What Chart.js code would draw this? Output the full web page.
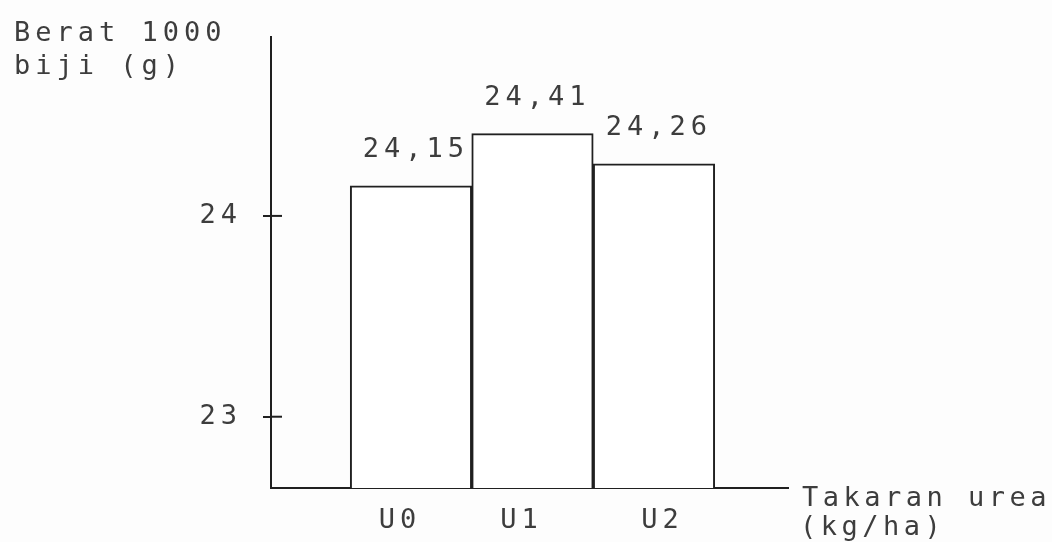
<!DOCTYPE html>
<html>
<head>
<meta charset="utf-8">
<script src="https://cdn.jsdelivr.net/npm/chart.js@4.4.1/dist/chart.umd.min.js"></script>
<style>
  html, body { margin: 0; padding: 0; background: #fdfdfd; }
  #wrap { position: relative; width: 1052px; height: 542px; }
</style>
</head>
<body>
<div id="wrap"><canvas id="c"></canvas></div>
<script>
// ---- data ----
const categories = ['U0', 'U1', 'U2'];
const weights = [24.15, 24.41, 24.26];
const weightLabels = ['24,15', '24,41', '24,26'];
const yTickValues = [23, 24];
const yTitleLines = ['Berat 1000', 'biji (g)'];
const xTitleLines = ['Takaran urea', '(kg/ha)'];

// ---- style ----
const FONT_FAMILY = "'DejaVu Sans Mono', 'Liberation Mono', monospace";
const FONT_SIZE = 27;
const TEXT_COLOR = '#3d3d3d';
const LINE_COLOR = '#202020';
const SPACING = '5px';
// label anchor shift (in category units) as printed in the original
const X_LABEL_SHIFT = [-0.09, -0.09, 0.07];

const spacingPlugin = {
  id: 'spacing',
  beforeDraw(chart) { chart.ctx.letterSpacing = SPACING; }
};

const extrasPlugin = {
  id: 'extras',
  afterDatasetsDraw(chart) {
    const ctx = chart.ctx;
    const meta = chart.getDatasetMeta(0);
    ctx.save();
    ctx.letterSpacing = SPACING;
    ctx.fillStyle = TEXT_COLOR;
    ctx.font = FONT_SIZE + 'px ' + FONT_FAMILY;
    ctx.textAlign = 'center';
    ctx.textBaseline = 'middle';
    meta.data.forEach((bar, i) => {
      ctx.fillText(weightLabels[i], bar.x + 5, bar.y - 36);
    });
    ctx.restore();
  },
  afterDraw(chart) {
    const ctx = chart.ctx;
    const ys = chart.scales.y;
    const area = chart.chartArea;
    ctx.save();
    ctx.strokeStyle = LINE_COLOR;
    ctx.lineWidth = 2;
    yTickValues.forEach(v => {
      const py = ys.getPixelForValue(v);
      ctx.beginPath();
      ctx.moveTo(area.left, py);
      ctx.lineTo(area.left + 11, py);
      ctx.stroke();
    });
    ctx.letterSpacing = SPACING;
    ctx.fillStyle = TEXT_COLOR;
    ctx.font = FONT_SIZE + 'px ' + FONT_FAMILY;
    ctx.textAlign = 'left';
    ctx.textBaseline = 'alphabetic';
    ctx.fillText(yTitleLines[0], 14, 41);
    ctx.fillText(yTitleLines[1], 14, 74);
    ctx.letterSpacing = '4.5px';
    ctx.fillText(xTitleLines[0], 802, 506);
    ctx.fillText(xTitleLines[1], 800, 535);
    ctx.restore();
  }
};

new Chart(document.getElementById('c'), {
  type: 'bar',
  data: {
    datasets: [{
      data: weights.map((v, i) => ({ x: i + 1, y: v })),
      backgroundColor: '#ffffff',
      borderColor: LINE_COLOR,
      borderWidth: 2,
      borderSkipped: false,
      barPercentage: 1,
      categoryPercentage: 1
    }]
  },
  options: {
    responsive: true,
    maintainAspectRatio: false,
    animation: false,
    events: [],
    layout: { padding: { left: 0, top: 32, right: 264, bottom: 0 } },
    plugins: { legend: { display: false }, tooltip: { enabled: false } },
    scales: {
      x: {
        type: 'linear',
        offset: false,
        min: -0.152,
        max: 4.103,
        afterBuildTicks: s => { s.ticks = categories.map((c, i) => ({ value: i + 1 + X_LABEL_SHIFT[i] })); },
        afterFit: s => { s.height = 54; },
        ticks: {
          callback: (v, i) => categories[i] ?? '',
          color: TEXT_COLOR,
          font: { family: FONT_FAMILY, size: FONT_SIZE },
          padding: 17,
          maxRotation: 0,
          autoSkip: false
        },
        grid: { display: false, drawTicks: false },
        border: { display: true, color: LINE_COLOR, width: 2 }
      },
      y: {
        type: 'linear',
        min: 22.645,
        max: 24.89,
        afterBuildTicks: s => { s.ticks = yTickValues.map(v => ({ value: v })); },
        afterFit: s => { s.width = 271; },
        ticks: {
          callback: v => String(v),
          color: TEXT_COLOR,
          font: { family: FONT_FAMILY, size: FONT_SIZE },
          padding: 21
        },
        grid: { display: true, drawOnChartArea: false, drawTicks: true, tickLength: 8, color: LINE_COLOR, lineWidth: 2 },
        border: { display: true, color: LINE_COLOR, width: 2 }
      }
    }
  },
  plugins: [spacingPlugin, extrasPlugin]
});
</script>
</body>
</html>
